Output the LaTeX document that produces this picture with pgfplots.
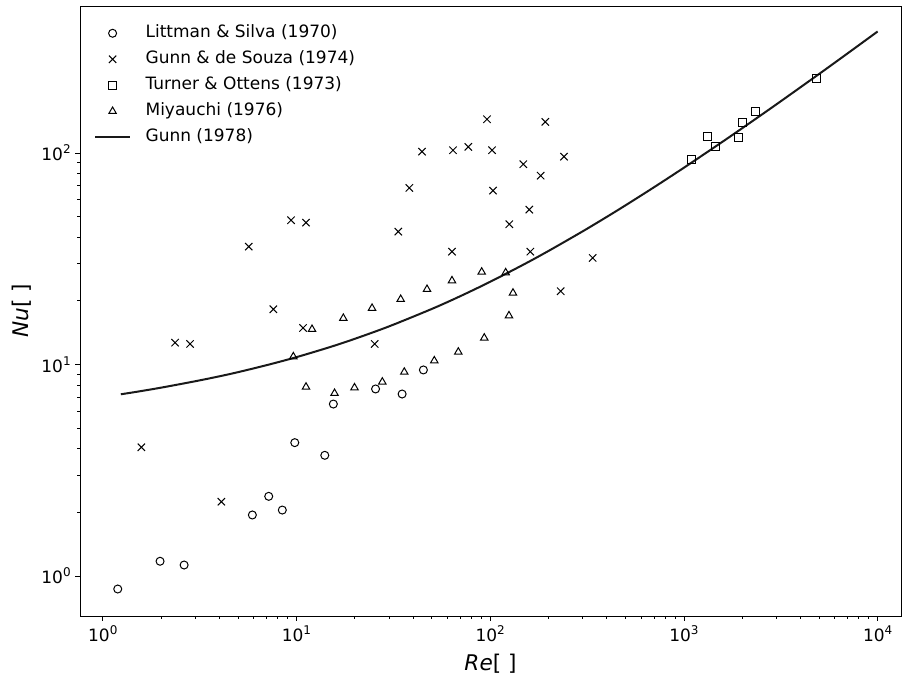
\documentclass[border=0pt]{standalone}
\usepackage{pgfplots}
\pgfplotsset{compat=1.18}
\usepackage{fontspec}
\setmainfont{DejaVu Sans}

% power-of-ten tick label
\newcommand{\tp}[1]{10\raisebox{0.42em}{\fontsize{9}{10}\selectfont #1}}

\begin{document}
\begin{tikzpicture}
\begin{axis}[
  name=ax,
  scale only axis,
  width=615.75pt, height=457.5pt,
  xmode=log, ymode=log,
  xmin=0.763, xmax=13200,
  ymin=0.647, ymax=495,
  xtick={1,10,100,1000,10000},
  xticklabels={\tp{0},\tp{1},\tp{2},\tp{3},\tp{4}},
  ytick={1,10,100},
  yticklabels={\tp{0},\tp{1},\tp{2}},
  tick align=outside, tick pos=left,
  major tick length=3.5pt, minor tick length=2pt,
  every tick/.style={black, line width=0.6pt},
  axis line style={line width=0.6pt},
  ticklabel style={font=\fontsize{12.75}{15}\selectfont},
  xlabel={{\itshape Re}[ ]},
  ylabel={{\itshape Nu}[ ]},
  every axis x label/.style={at={(axis description cs:0.5,-0.0787)}, anchor=center,
    font=\fontsize{16.2}{19}\selectfont},
  every axis y label/.style={at={(axis description cs:-0.0708,0.5)}, rotate=90, anchor=center,
    font=\fontsize{16.2}{19}\selectfont},
  legend cell align=left,
  legend image code/.code={\draw[mark repeat=2,mark phase=2,#1] plot coordinates {(0pt,0pt) (13pt,0pt) (26pt,0pt)};},
  legend style={at={(0,1)}, anchor=north west, draw=none, fill=none,
    xshift=7.5pt, yshift=-12pt,
    font=\fontsize{12.75}{15}\selectfont,
    nodes={inner sep=0pt, text height=9.5pt, text depth=3pt},
    row sep=7pt, column sep=11pt},
]
% Littman & Silva (1970)
\addplot[only marks, mark=o, mark size=3pt, black, line width=0.75pt] coordinates {
  (1.195,0.868) (1.976,1.174) (2.63,1.127) (5.92,1.943) (7.19,2.38)
  (8.45,2.05) (9.8,4.27) (14.0,3.72) (15.5,6.5) (25.6,7.66)
  (35.1,7.25) (45.2,9.42)
};
\addlegendentry{Littman \& Silva (1970)}
% Gunn & de Souza (1974)
\addplot[only marks, mark=x, mark size=3.9pt, black, line width=0.75pt] coordinates {
  (1.582,4.06) (2.362,12.68) (2.823,12.50) (4.094,2.245) (5.67,36.06)
  (7.596,18.24) (9.373,48.07) (11.20,46.83) (10.81,14.88) (25.34,12.50)
  (33.55,42.46) (38.24,68.32) (44.46,101.4) (63.5,34.14) (64.27,103.0)
  (77.1,106.8) (96.27,144.3) (102.2,103.0) (103.4,66.35) (125.5,46.02)
  (148.2,88.44) (159.2,53.95) (161.1,34.14) (182.2,78.1) (192.5,140.2)
  (231.2,22.19) (240.4,96.0) (338.1,31.89)
};
\addlegendentry{Gunn \& de Souza (1974)}
% Turner & Ottens (1973)
\addplot[only marks, mark=square, mark size=3pt, black, line width=0.75pt] coordinates {
  (1091,93.4) (1327,119.4) (1452,106.8) (1917,117.8) (2010,138.6)
  (2335,156.8) (4820,225.5)
};
\addlegendentry{Turner \& Ottens (1973)}
% Miyauchi (1976)
\addplot[only marks, mark=triangle, mark size=3.2pt, black, line width=0.75pt] coordinates {
  (9.63,10.89) (11.20,7.83) (12.03,14.67) (15.72,7.31) (17.45,16.55)
  (19.93,7.77) (24.55,18.46) (27.74,8.27) (34.51,20.34) (36.02,9.21)
  (47.19,22.68) (51.45,10.42) (63.5,24.90) (68.45,11.46) (90.4,27.37)
  (93.2,13.35) (120.2,27.17) (125.0,17.01) (131.1,21.78)
};
\addlegendentry{Miyauchi (1976)}
% Gunn (1978) correlation
\addplot[black!90, line width=1.5pt, smooth] coordinates {
  (1.24,7.23) (1.5,7.43) (2,7.77) (3,8.33) (4,8.79) (5,9.20) (7,9.92)
  (10,10.83) (15,12.11) (20,13.22) (30,15.13) (50,18.31) (70,21.02)
  (100,24.60) (150,29.80) (200,34.41) (300,42.58) (400,49.87) (500,56.57)
  (700,68.78) (1000,85.14) (1500,109.25) (2000,130.9) (3000,169.6)
  (5000,236.6) (7000,295.6) (10000,375.1)
};
\addlegendentry{Gunn (1978)}
\end{axis}
% fixed page frame around the axis
\pgfresetboundingbox
\path[use as bounding box] (ax.south west) ++(-60pt,-45pt) rectangle ++(678pt,507pt);
\end{tikzpicture}
\end{document}
